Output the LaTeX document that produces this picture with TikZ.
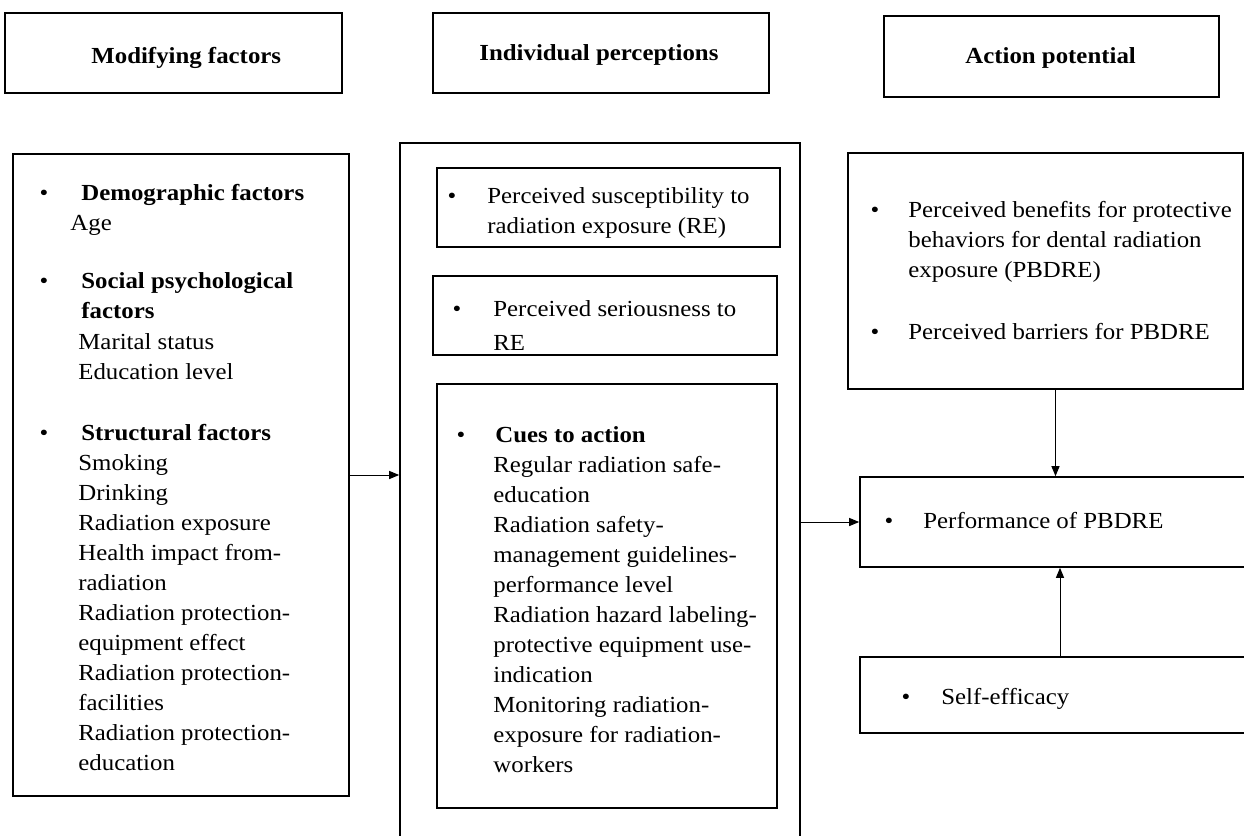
\documentclass[tikz,border=0pt]{standalone}
\usepackage{fontspec}
\setmainfont{Liberation Serif}[FakeStretch=1.08]
\usetikzlibrary{
    arrows.meta,
    positioning,
    fit,
    calc
}
\tikzset{
    % Boxes
    box/.style={draw,rectangle,inner sep=0pt,line width=0.8pt},
    %
    % Text
    bul/.style={anchor=base,inner sep=0pt},
    oneline/.style={anchor=base west,inner sep=0pt},
    block/.style={anchor=north west,inner sep=0pt,align=left},
    head/.style={oneline,font=\fontsize{11.5}{15}\selectfont\bfseries},
    %
    % Arrows
    arrow tip/.tip={Triangle[length=5pt,width=4pt]},
    arr/.style={->,>={arrow tip},line width=0.5pt}
}
\tikzstyle{every node}=[font=\fontsize{11.5}{15}\selectfont]

\begin{document}
\begin{tikzpicture}[x=0.5pt,y=-0.5pt]
    \useasboundingbox (0,0) rectangle (1244,836);
    % headings
    \node[box,fit={(5,13) (342,93)}] (MF) {};
    \node[box,fit={(433,13) (769,93)}] (IP) {};
    \node[box,fit={(884,16) (1219,97)}] (AP) {};
    \node[head] (MFt) at (91,63) {Modifying factors};
    \node[head] (IPt) at (479,60) {Individual perceptions};
    \node[head] (APt) at (965,63) {Action potential};
    % modifying factors
    \node[box,fit={(13,154) (349,796)}] (MFbox) {};
    \node[bul] (b1) at (44,200) {\textbullet};
    \node[bul] (b2) at (44,288) {\textbullet};
    \node[bul] (b3) at (44,440) {\textbullet};
    \node[head] (demo) at (81,200) {Demographic factors};
    \node[oneline] (age) at (70,230) {Age};
    \node[block,font=\fontsize{11.5}{15}\selectfont\bfseries] (soc) at (81,267) {\strut Social psychological\\factors};
    \node[block] (socs) at (78,328) {\strut Marital status\\Education level};
    \node[head] (str) at (81,440) {Structural factors};
    \node[block] (strs) at (78,449) {\strut Smoking\\Drinking\\Radiation exposure\\Health impact from-\\radiation\\Radiation protection-\\equipment effect\\Radiation protection-\\facilities\\Radiation protection-\\education};
    % individual perceptions
    \node[box,fit={(400,143) (800,850)}] (IPbox) {};
    \node[box,fit={(437,168) (780,247)}] (SUS) {};
    \node[bul] (b4) at (452,203) {\textbullet};
    \node[block] (sust) at (487,182) {\strut Perceived susceptibility to\\radiation exposure (RE)};
    \node[box,fit={(433,276) (777,355)}] (SER) {};
    \node[bul] (b5) at (457,316) {\textbullet};
    \node[block] (sert) at (493,295) {\strut Perceived seriousness to\\[2pt]RE};
    \node[box,fit={(437,384) (777,808)}] (CUE) {};
    \node[bul] (b6) at (461,442) {\textbullet};
    \node[head] (cuet) at (495,442) {Cues to action};
    \node[block] (cues) at (493,451) {\strut Regular radiation safe-\\education\\Radiation safety-\\management guidelines-\\performance level\\Radiation hazard labeling-\\protective equipment use-\\indication\\Monitoring radiation-\\exposure for radiation-\\workers};
    % action potential
    \node[box,fit={(848,153) (1243,389)}] (BEN) {};
    \node[bul] (b7) at (875,217) {\textbullet};
    \node[bul] (b8) at (875,339) {\textbullet};
    \node[block] (bent) at (908,196) {\strut Perceived benefits for protective\\behaviors for dental radiation\\exposure (PBDRE)};
    \node[oneline] (bart) at (908,339) {Perceived barriers for PBDRE};
    \node[box,fit={(860,477) (1260,567)}] (PERF) {};
    \node[bul] (b9) at (889,528) {\textbullet};
    \node[oneline] (perft) at (923,528) {Performance of PBDRE};
    \node[box,fit={(860,657) (1260,733)}] (SELF) {};
    \node[bul] (b10) at (906,704) {\textbullet};
    \node[oneline] (selft) at (941,704) {Self-efficacy};
    % connectors
    \draw[arr] (MFbox.east) -- (MFbox.east -| IPbox.west);
    \draw[arr] (IPbox.east |- PERF.west) -- (PERF.west);
    \draw[arr] ([xshift=5pt]BEN.south) -- ([xshift=5pt]BEN.south |- PERF.north);
    \draw[arr] (SELF.north) -- (PERF.south);
\end{tikzpicture}
\end{document}
